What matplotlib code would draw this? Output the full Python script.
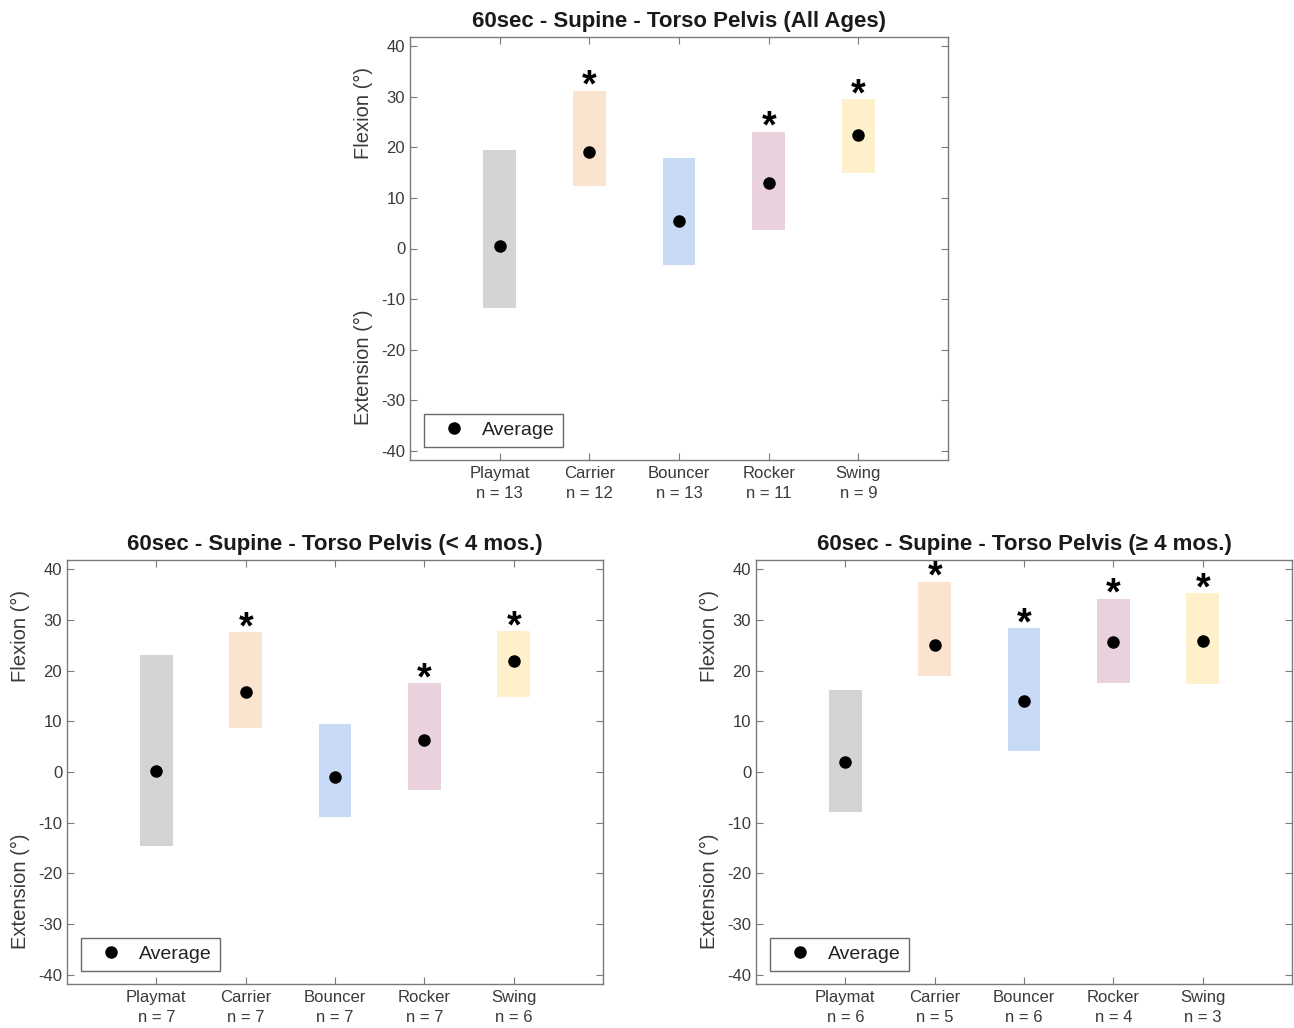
import numpy as np
import matplotlib.pyplot as plt

plt.rcParams['font.family'] = ['Liberation Sans', 'DejaVu Sans']
plt.rcParams['axes.unicode_minus'] = False

# data (degrees)
devices = ["Playmat", "Carrier", "Bouncer", "Rocker", "Swing"]
colors = ["#d4d4d4", "#fbe4cf", "#c9daf6", "#e9d1dd", "#fef0cb"]

all_n = [13, 12, 13, 11, 9]
all_mean = [0.5, 19.1, 5.5, 12.9, 22.4]
all_top = [19.4, 31.2, 17.8, 23.1, 29.5]
all_bot = [-11.8, 12.4, -3.3, 3.6, 14.9]
all_sig = [False, True, False, True, True]

young_n = [7, 7, 7, 7, 6]
young_mean = [0.1, 15.8, -1.0, 6.4, 21.8]
young_top = [23.0, 27.6, 9.5, 17.5, 27.8]
young_bot = [-14.5, 8.6, -8.8, -3.6, 14.7]
young_sig = [False, True, False, True, True]

old_n = [6, 5, 6, 4, 3]
old_mean = [1.9, 25.0, 14.0, 25.6, 25.9]
old_top = [16.1, 37.5, 28.4, 34.2, 35.2]
old_bot = [-7.8, 18.9, 4.1, 17.6, 17.4]
old_sig = [False, True, True, True, True]

AXCOL = "#7a7a7a"
TXTCOL = "#3a3a3a"


def draw_panel(ax, title, n, mean, top, bot, sig):
    x = np.arange(1, len(devices) + 1)
    for i in range(len(devices)):
        ax.bar(x[i], top[i] - bot[i], bottom=bot[i], width=0.365, color=colors[i], edgecolor="none", zorder=1)
        if sig[i]:
            ax.text(x[i], top[i] - 1.2, "*", ha="center", va="baseline", fontsize=27, fontweight="bold", color="black", zorder=3)
    ax.plot(x, mean, "o", color="black", markersize=8, linestyle="none", label="Average", zorder=2)

    ax.set_xlim(0, 6)
    ax.set_ylim(-41.8, 41.8)
    ax.set_yticks(np.arange(-40, 41, 10))
    ax.set_xticks(x)
    ax.set_xticklabels(["{}\nn = {}".format(d, k) for d, k in zip(devices, n)], fontsize=12, color=TXTCOL, linespacing=1.45)
    ax.tick_params(axis="y", labelsize=12, labelcolor=TXTCOL)
    ax.tick_params(direction="in", length=5, width=0.8, color=AXCOL, top=True, right=True)
    ax.tick_params(axis="x", pad=4)
    for s in ax.spines.values():
        s.set_color(AXCOL)
        s.set_linewidth(1.0)
    ax.set_title(title, fontsize=16, fontweight="bold", color="#1a1a1a", pad=7)

    trans = ax.get_yaxis_transform()
    ax.text(-0.086, 26.8, "Flexion (°)", transform=trans, rotation=90, ha="center", va="center", fontsize=14.5, color=TXTCOL)
    ax.text(-0.086, -23.5, "Extension (°)", transform=trans, rotation=90, ha="center", va="center", fontsize=14.5, color=TXTCOL)

    leg = ax.legend(loc="lower left", bbox_to_anchor=(0.026, 0.031), borderaxespad=0, fontsize=14, frameon=True,
                    fancybox=False, handletextpad=0.3, borderpad=0.4, handlelength=2.3)
    leg.get_frame().set_edgecolor("#444444")
    leg.get_frame().set_linewidth(1.0)
    for t in leg.get_texts():
        t.set_color("#222222")


fig = plt.figure(figsize=(12.94, 10.28), dpi=100)
ax1 = fig.add_axes([410 / 1294, 1 - 460 / 1028, 538 / 1294, 423 / 1028])
ax2 = fig.add_axes([67 / 1294, 1 - 984 / 1028, 536 / 1294, 424 / 1028])
ax3 = fig.add_axes([756 / 1294, 1 - 984 / 1028, 536 / 1294, 424 / 1028])

draw_panel(ax1, "60sec - Supine - Torso Pelvis (All Ages)", all_n, all_mean, all_top, all_bot, all_sig)
draw_panel(ax2, "60sec - Supine - Torso Pelvis (< 4 mos.)", young_n, young_mean, young_top, young_bot, young_sig)
draw_panel(ax3, "60sec - Supine - Torso Pelvis (≥ 4 mos.)", old_n, old_mean, old_top, old_bot, old_sig)

fig.savefig("out.png", dpi=100)
